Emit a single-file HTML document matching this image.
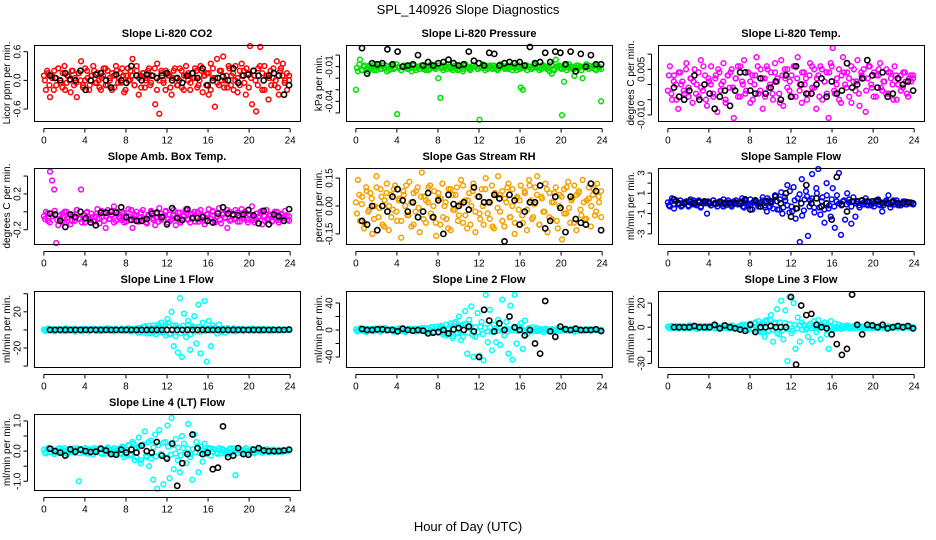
<!DOCTYPE html>
<html><head><meta charset="utf-8"><style>
html,body{margin:0;padding:0;background:#fff;}
svg{display:block;font-family:"Liberation Sans",sans-serif;}
</style></head><body>
<svg id="chart" width="936" height="540" viewBox="0 0 936 540">
<text x="468" y="14" font-size="13" text-anchor="middle">SPL_140926  Slope Diagnostics</text>
<text x="468" y="531" font-size="13" text-anchor="middle">Hour of Day (UTC)</text>
</svg>
<script>
const hourTicks = [0,4,8,12,16,20,24];

const p1Color = [0.1,-0.2,0.15,-0.35,0.05,0.2,-0.1,0.25,0.0,-0.15,0.3,-0.05,0.1,-0.25,0.2,0.05,-0.35,0.15,0.4,-0.1,0.0,0.2,-0.2,0.1,0.3,-0.05,0.15,-0.15,0.05,0.25,-0.1,0.2,0.0,-0.2,0.1,0.3,-0.05,0.15,0.25,-0.25,0.1,0.0,0.2,0.45,-0.1,0.3,-0.3,0.1,0.15,-0.15,0.05,0.25,-0.05,0.1,-0.5,0.35,-0.7,0.2,0.0,-0.2,0.15,0.1,-0.3,0.2,0.05,-0.1,0.25,-0.15,0.1,0.3,0.0,-0.2,0.15,0.05,0.2,-0.1,0.3,-0.25,0.1,0.15,-0.3,0.35,0.05,-0.55,0.45,-0.1,0.2,0.5,0.0,-0.15,0.25,0.1,-0.2,0.3,0.05,-0.1,0.35,0.2,-0.3,0.15,0.8,-0.5,0.1,-0.65,0.25,0.7,-0.2,0.3,0.1,-0.4,0.2,0.05,-0.1,0.4,-0.3,0.25,0.35,0.0,-0.2,0.1];
const p1Color2 = [0.0,0.2,-0.1,0.1,-0.2,0.05,0.25,-0.05,0.15,-0.2,0.1,0.0,0.2,-0.1,-0.05,0.15,0.0,-0.15,0.25,0.05,-0.1,0.1,0.2,-0.05,0.0,-0.2,0.1,0.25,-0.1,0.05,0.15,-0.15,0.2,0.05,-0.05,0.1,-0.2,0.25,0.0,0.1,-0.1,0.2,0.05,-0.15,0.15,0.0,0.2,-0.1,0.1,0.25,-0.2,0.0,0.15,-0.05,0.2,0.1,-0.15,0.05,0.25,-0.1,0.0,0.2,-0.2,0.1,0.15,-0.05,0.05,0.25,-0.15,0.0,0.2,0.1,-0.1,0.15,-0.2,0.25,0.05,-0.05,0.2,0.0,-0.15,0.1,0.3,-0.1,0.15,0.0,-0.25,0.2,0.1,-0.05,0.25,-0.15,0.05,0.2,0.0,-0.1,0.3,0.15,-0.2,0.1,0.05,-0.1,0.25,0.0,-0.15,0.2,0.1,-0.05,0.15,0.0];
const p1Black = [0.1,0.05,0.0,0.15,0.02,0.0,0.2,-0.2,0.0,0.12,0.15,0.0,-0.15,0.12,0.0,-0.05,0.3,0.1,0.0,0.12,0.1,0.05,0.1,0.15,0.0,0.05,-0.05,0.1,0.15,0.05,0.25,-0.1,0.0,0.05,0.08,0.0,0.25,-0.05,0.1,0.12,0.2,0.1,0.0,0.1,0.15,0.1,-0.3,-0.1];
const p1Ticks = [-0.6,0.0,0.6];
const p1Labels = ["-0.6","0.0","0.6"];

const p2Color = [-0.03,-0.014,-0.004,-0.013,-0.009,-0.012,-0.014,-0.01,-0.011,-0.008,-0.013,-0.01,-0.012,-0.009,-0.011,-0.014,-0.01,-0.012,-0.009,-0.011,-0.051,-0.01,-0.013,-0.009,-0.011,-0.012,-0.01,-0.014,-0.009,-0.011,-0.01,-0.012,-0.009,-0.011,-0.013,-0.01,-0.012,-0.009,-0.011,-0.01,-0.02,-0.037,-0.011,-0.009,-0.012,-0.01,-0.011,-0.013,-0.009,-0.01,-0.012,-0.011,-0.014,-0.009,-0.01,-0.012,-0.011,-0.009,-0.01,-0.012,-0.056,-0.01,-0.011,-0.009,-0.012,-0.01,-0.011,-0.009,-0.01,-0.012,-0.011,-0.009,-0.01,-0.011,-0.012,-0.009,-0.01,-0.011,-0.013,-0.01,-0.028,-0.03,-0.011,-0.009,-0.01,-0.012,-0.011,-0.009,-0.01,-0.011,-0.012,-0.009,-0.01,-0.011,-0.014,-0.016,-0.012,-0.004,-0.01,-0.011,-0.052,-0.023,-0.009,-0.011,-0.01,-0.012,-0.018,-0.011,-0.009,-0.01,-0.02,-0.011,-0.01,-0.009,-0.011,-0.01,-0.012,-0.009,-0.011,-0.04];
const p2Color2 = [-0.011,-0.008,-0.013,-0.01,-0.012,-0.009,-0.011,-0.013,-0.01,-0.008,-0.012,-0.011,-0.009,-0.013,-0.01,-0.012,-0.008,-0.011,-0.013,-0.009,-0.01,-0.012,-0.011,-0.008,-0.013,-0.01,-0.009,-0.012,-0.011,-0.013,-0.008,-0.01,-0.012,-0.009,-0.011,-0.013,-0.01,-0.008,-0.012,-0.011,-0.009,-0.013,-0.01,-0.012,-0.008,-0.011,-0.013,-0.009,-0.01,-0.012,-0.011,-0.008,-0.013,-0.01,-0.009,-0.012,-0.011,-0.013,-0.008,-0.01,-0.012,-0.009,-0.011,-0.013,-0.01,-0.008,-0.012,-0.011,-0.009,-0.013,-0.01,-0.012,-0.008,-0.011,-0.013,-0.009,-0.01,-0.012,-0.011,-0.008,-0.013,-0.01,-0.009,-0.012,-0.011,-0.013,-0.008,-0.01,-0.012,-0.009,-0.011,-0.013,-0.01,-0.008,-0.012,-0.011,-0.009,-0.013,-0.01,-0.012];
const p2Black = [0.006,-0.016,-0.007,-0.008,-0.007,0.005,-0.008,0.003,-0.01,-0.009,-0.008,0.0,-0.009,-0.006,-0.009,-0.007,-0.006,-0.004,-0.007,-0.009,-0.008,0.003,-0.005,-0.007,-0.009,0.002,0.001,-0.009,-0.007,-0.006,-0.007,-0.006,-0.009,0.007,-0.007,-0.006,0.002,-0.006,0.003,0.002,-0.008,0.003,-0.014,0.001,-0.01,0.0,-0.008,-0.008];
const p2Ticks = [0,-0.01,-0.02,-0.03,-0.04,-0.05];
const p2Labels = ["","-0.01","","","-0.04",""];

const p3Color = [-0.002,0.006,-0.005,0.003,0.0,-0.008,0.004,0.001,-0.003,0.007,-0.001,0.002,-0.006,0.005,0.0,-0.004,0.008,-0.002,0.003,-0.007,0.001,0.006,-0.003,0.002,-0.009,0.004,0.0,0.007,-0.005,0.003,-0.001,0.005,-0.011,0.002,0.006,-0.004,0.001,0.008,-0.002,0.004,-0.006,0.003,0.0,0.009,-0.003,0.005,-0.008,0.002,0.006,-0.001,0.004,-0.005,0.007,0.001,-0.003,0.008,-0.007,0.002,0.005,-0.002,0.003,0.006,-0.004,0.009,0.0,-0.006,0.004,0.002,-0.003,0.007,-0.001,0.005,-0.008,0.003,0.006,-0.005,0.001,0.004,-0.011,0.007,0.012,-0.003,0.002,0.005,-0.006,0.009,0.0,0.004,-0.004,0.006,0.001,-0.002,0.008,-0.007,0.003,0.005,-0.009,0.002,0.006,-0.001,0.004,-0.004,0.003,0.007,-0.002,0.001,0.005,-0.003,0.004,0.0,0.006,-0.005,0.002,0.003,-0.001,0.004,-0.003,0.002,0.001,0.003];
const p3Color2 = [0.003,-0.003,0.001,-0.005,0.004,0.0,-0.002,0.005,-0.004,0.002,0.001,-0.003,0.004,-0.001,0.006,-0.005,0.002,0.0,-0.004,0.003,0.005,-0.002,0.001,-0.006,0.003,0.004,-0.001,0.002,-0.004,0.006,0.0,-0.003,0.004,0.001,-0.005,0.003,0.006,-0.002,0.002,-0.004,0.005,0.0,-0.003,0.004,0.002,-0.006,0.003,0.005,-0.001,0.001,-0.004,0.006,0.002,-0.002,0.004,0.0,-0.005,0.003,0.006,-0.001,0.002,-0.004,0.005,0.001,-0.003,0.004,0.006,-0.002,0.0,-0.005,0.003,0.004,-0.001,0.002,-0.006,0.005,0.001,-0.003,0.004,0.002,-0.002,0.006,0.0,-0.004,0.003,0.005,-0.001,0.001,-0.003,0.004,0.002,-0.005,0.003,0.0,-0.002,0.004,0.001,-0.004,0.003,0.002];
const p3Black = [-0.001,-0.004,-0.005,-0.002,0.003,-0.005,0.0,-0.003,-0.008,-0.004,-0.002,-0.007,-0.002,0.004,0.004,-0.002,-0.003,0.002,-0.003,-0.001,0.001,-0.005,0.003,-0.004,0.006,0.0,-0.003,-0.003,0.0,0.002,-0.004,0.001,-0.003,-0.002,0.007,-0.001,0.0,0.002,0.008,0.003,-0.001,0.004,-0.004,-0.003,0.002,0.0,0.001,-0.002];
const p3Ticks = [0.01,0.005,0,-0.005,-0.01];
const p3Labels = ["","0.005","","","-0.010"];

const p4Color = [-0.05,0.0,-0.1,0.45,0.35,0.25,-0.35,-0.15,-0.08,-0.02,-0.12,0.0,-0.06,-0.14,-0.03,-0.1,0.02,-0.07,0.25,-0.04,-0.12,0.0,-0.08,-0.02,-0.1,-0.05,0.03,-0.13,-0.06,-0.01,-0.18,0.02,-0.08,-0.04,0.06,-0.1,-0.02,-0.07,0.0,-0.12,-0.05,0.03,-0.09,-0.18,-0.03,0.0,-0.11,-0.06,0.02,-0.08,-0.13,-0.04,0.01,-0.07,-0.15,-0.02,0.04,-0.09,-0.05,0.0,-0.12,-0.03,-0.08,0.02,-0.15,-0.06,-0.01,-0.1,-0.04,0.03,-0.08,-0.12,-0.02,0.0,-0.06,-0.11,0.02,-0.05,-0.14,-0.03,0.03,-0.08,0.0,-0.1,-0.05,0.04,-0.13,-0.02,-0.07,-0.18,0.0,-0.09,-0.04,0.02,-0.11,-0.06,0.03,-0.08,-0.01,-0.12,-0.04,0.06,-0.09,-0.02,-0.06,0.0,-0.14,-0.05,0.02,-0.08,-0.03,-0.1,0.0,-0.06,-0.12,-0.02,-0.07,0.01,-0.09,-0.05];
const p4Color2 = [-0.08,-0.02,-0.12,-0.05,0.01,-0.09,-0.04,-0.11,0.0,-0.07,-0.03,-0.1,-0.06,0.02,-0.08,-0.12,-0.04,-0.01,-0.09,-0.06,-0.11,-0.02,-0.07,0.01,-0.1,-0.05,-0.08,-0.03,-0.12,0.0,-0.06,-0.09,-0.02,-0.11,-0.05,0.02,-0.08,-0.04,-0.1,-0.01,-0.07,-0.12,-0.03,0.0,-0.09,-0.06,-0.11,-0.02,-0.05,0.01,-0.08,-0.1,-0.04,-0.07,-0.01,-0.12,-0.05,0.02,-0.09,-0.03,-0.06,-0.11,0.0,-0.08,-0.04,-0.1,-0.02,-0.07,0.01,-0.12,-0.05,-0.09,-0.03,-0.06,0.02,-0.1,-0.04,-0.08,-0.01,-0.11,-0.06,0.0,-0.09,-0.03,-0.07,-0.12,-0.02,-0.05,0.01,-0.1,-0.08,-0.04,-0.11,-0.06,0.0,-0.09,-0.03,-0.07,-0.05,-0.1];
const p4Black = [-0.02,-0.03,-0.1,-0.17,-0.03,-0.06,0.0,-0.07,-0.12,-0.15,-0.01,-0.01,0.0,-0.01,0.05,-0.06,-0.09,-0.1,-0.1,-0.08,-0.02,-0.01,-0.06,-0.14,0.04,-0.07,-0.09,0.03,-0.07,-0.07,-0.06,-0.1,-0.12,-0.02,0.05,-0.02,-0.03,-0.04,-0.03,0.02,-0.04,-0.13,0.01,-0.14,-0.03,-0.05,-0.1,0.03];
const p4Ticks = [0.4,0.2,0,-0.2];
const p4Labels = ["","0.2","","-0.2"];

const p5Color = [0.02,0.14,-0.08,0.05,-0.12,0.1,-0.03,0.07,-0.15,0.0,0.16,-0.06,0.09,-0.1,0.03,0.12,-0.13,0.06,-0.02,0.11,-0.08,0.04,-0.17,0.08,0.0,-0.05,0.13,-0.11,0.07,-0.03,0.1,-0.14,0.18,0.05,-0.09,0.02,0.11,-0.06,0.08,-0.16,0.04,-0.1,0.12,0.0,-0.07,0.09,-0.13,0.06,-0.02,0.1,-0.05,0.14,-0.09,0.03,-0.12,0.07,0.0,0.12,-0.14,0.05,-0.04,0.09,-0.1,0.15,0.02,-0.07,0.11,-0.12,0.06,0.16,-0.03,0.08,-0.11,0.02,0.12,-0.06,0.09,-0.15,0.04,-0.02,0.11,-0.09,0.07,-0.13,0.14,0.03,-0.06,0.1,0.16,-0.1,0.05,-0.03,0.12,-0.14,0.07,-0.07,0.02,0.1,-0.12,0.06,-0.18,0.09,-0.04,0.13,-0.09,0.04,0.11,-0.13,0.07,-0.02,0.14,-0.07,0.03,0.1,-0.11,0.06,-0.05,0.12,0.02,0.08];
const p5Color2 = [-0.04,0.06,0.01,-0.09,0.08,-0.02,0.04,-0.07,0.1,-0.01,0.05,-0.11,0.07,0.0,-0.06,0.09,-0.03,0.03,-0.08,0.06,0.11,-0.05,0.02,-0.1,0.08,-0.01,0.05,-0.07,0.03,0.1,-0.04,0.0,-0.09,0.07,0.04,-0.06,0.02,-0.12,0.09,-0.02,0.06,-0.08,0.01,0.11,-0.05,0.03,-0.1,0.08,-0.03,0.05,-0.07,0.0,0.09,-0.04,0.02,-0.11,0.07,-0.01,0.06,-0.08,0.04,0.1,-0.06,0.0,-0.09,0.05,0.03,-0.05,0.08,-0.02,0.11,-0.07,0.01,0.06,-0.1,0.04,-0.03,0.09,-0.06,0.02,0.07,-0.08,0.0,0.05,-0.04,0.1,-0.01,0.03,-0.09,0.06,0.08,-0.05,0.02,-0.07,0.04,0.0,0.09,-0.03,0.05,-0.06];
const p5Black = [-0.08,-0.1,0.0,-0.13,0.0,-0.03,0.05,0.09,0.03,-0.03,0.02,-0.06,-0.03,0.07,-0.06,0.03,-0.15,0.06,0.01,0.0,0.02,-0.02,0.1,0.05,0.02,0.02,0.06,0.04,-0.19,0.06,0.03,-0.1,-0.03,0.02,0.02,0.11,-0.12,-0.08,0.05,-0.01,-0.14,0.05,-0.07,-0.09,-0.1,0.12,0.08,-0.13];
const p5Ticks = [0.15,0.0,-0.15];
const p5Labels = ["0.15","0.00","-0.15"];

const p6Color = [0.1,-0.3,0.5,-0.5,0.2,-0.1,0.3,-0.2,0.0,0.2,-0.3,0.4,-0.1,0.1,-0.2,0.3,-0.4,0.0,0.2,-1.0,0.1,-0.2,0.3,0.0,-0.3,0.2,-0.1,0.4,-0.2,0.1,0.0,-0.3,0.2,0.3,-0.1,0.0,0.5,-0.4,0.1,-0.2,0.4,-0.6,0.2,0.0,-0.3,0.1,0.6,-0.2,-0.8,0.3,0.0,-0.5,0.7,0.2,-0.6,1.1,-0.4,0.3,1.8,-0.9,-0.3,1.6,-1.5,0.5,-3.8,2.4,-0.7,1.2,-3.2,0.3,2.9,-0.4,1.5,3.4,-1.1,0.6,-1.9,2.0,-0.5,-1.3,1.5,-2.4,0.8,3.0,-3.1,0.2,-1.6,1.0,0.4,-2.0,0.6,-1.3,0.2,-0.4,0.3,-0.1,0.5,-0.2,0.1,0.0,-0.3,0.2,0.4,-0.2,-0.8,0.1,0.3,0.8,-0.4,0.2,-0.1,0.3,0.0,-0.2,0.1,0.2,-0.1,0.0,0.1,-0.1];
const p6Color2 = [-0.2,0.2,-0.1,0.3,0.0,-0.3,0.1,0.2,-0.2,0.0,0.3,-0.1,0.2,-0.3,0.1,0.0,0.2,-0.2,0.3,-0.1,0.0,0.2,-0.3,0.1,0.3,-0.2,0.0,0.1,-0.1,0.2,-0.3,0.3,0.0,-0.2,0.1,0.2,-0.1,0.0,0.3,-0.4,0.5,-0.3,0.2,0.8,-0.6,0.4,-1.0,0.6,-0.2,1.2,-0.8,0.3,-0.5,0.9,-1.2,0.4,0.7,-0.3,0.5,-0.9,1.0,-0.4,0.2,-0.6,0.8,-0.2,0.4,-0.3,0.2,0.0,-0.2,0.3,-0.1,0.1,-0.3,0.2,0.0,-0.2,0.3,0.1,-0.1,0.2,-0.2,0.0,0.3,-0.1,0.1,-0.2,0.2,0.0,-0.1,0.3,0.1,-0.2,0.0,0.2,-0.1,0.1,0.0,-0.1];
const p6Black = [0.4,0.0,0.0,0.2,0.0,0.1,0.2,0.0,0.0,0.1,0.0,0.0,0.0,0.0,0.4,-0.6,0.3,-0.3,0.2,0.2,0.7,0.0,1.0,-1.3,-0.5,0.0,1.8,0.0,0.5,-0.3,0.0,-1.6,2.6,-0.1,-0.8,0.2,0.2,0.3,0.2,0.2,0.3,0.0,0.0,0.1,0.0,0.0,0.1,0.0];
const p6Ticks = [3,2,1,0,-1,-2,-3];
const p6Labels = ["3","","1","","-1","","-3"];

const p7Color = [0.5,-1.0,1.5,-0.5,0.8,-1.5,0.2,1.0,-0.8,0.5,-1.2,1.8,0.0,-0.5,1.0,-1.8,0.6,0.2,-1.0,1.2,-0.3,0.8,-1.5,0.4,1.5,-0.6,0.0,1.0,-1.2,0.5,-0.2,1.8,-0.8,0.3,-1.5,1.0,0.0,-0.6,1.5,-1.0,0.5,2.0,-2.0,0.8,-1.2,1.5,-3.0,2.5,-1.0,4.0,-4.0,1.5,-2.0,5.0,-2.0,3.0,-1.5,8.0,-3.0,6.0,12.0,-5.0,20.0,-18.0,5.0,-25.0,35.0,-30.0,18.0,-8.0,10.0,-22.0,4.0,15.0,-15.0,28.0,-26.0,8.0,32.0,-35.0,10.0,-18.0,5.0,3.0,-4.0,6.0,-2.0,1.5,-3.0,2.0,-1.0,0.5,1.8,-1.5,0.8,-0.3,1.2,-1.0,0.4,0.0,-0.8,1.5,-0.5,0.8,0.0,-1.2,0.5,1.0,-0.6,0.3,-1.0,0.6,0.0,-0.4,0.8,-0.5,0.2,0.4,-0.2,0.0];
const p7Color2 = [-0.8,1.0,-0.3,0.6,-1.2,0.2,0.9,-0.5,1.3,-1.0,0.4,-0.2,1.1,-0.7,0.3,-1.3,0.8,0.0,-0.6,1.0,0.2,-1.1,0.7,-0.4,1.2,-0.2,0.5,-0.9,1.0,0.0,-0.5,0.8,-1.2,0.3,1.1,-0.7,0.6,-1.0,2.0,-2.5,3.0,-1.5,4.5,-3.5,2.0,-5.0,6.0,-2.5,3.5,-6.0,8.0,-4.0,5.0,-7.0,3.0,-3.5,4.5,-2.0,6.0,-5.0,2.5,-1.5,3.0,-2.0,1.5,-1.0,2.0,-0.8,1.2,-0.5,0.8,-1.2,0.3,1.0,-0.6,0.2,-1.0,0.7,-0.3,1.1,-0.8,0.4,0.0,-0.5,0.9,-1.1,0.6,-0.2,1.0,-0.7,0.3,-0.4,0.8,0.0,-0.6,0.5,-0.2,0.3,0.0,-0.3];
const p7Black = [0,0,0,0,0,0,0,0,0,0,0,0,0,0,0,0,0,0,0,0,0,0,0,0,0,0,0,0,0,0,0,0,0,0,0,0,0,0,0,0,0,0,0,0,0,0,0,0.5];
const p7Ticks = [40,20,0,-20,-40];
const p7Labels = ["","20","","-20",""];

const p8Color = [1.0,-2.0,2.5,-1.0,0.5,-3.0,1.5,0.0,-1.5,2.0,-0.5,1.0,-2.5,0.5,3.0,-1.0,0.0,1.5,-2.0,0.8,-1.0,2.5,-1.5,0.5,-3.0,1.0,2.0,-0.8,0.3,-2.0,1.5,-1.0,3.0,-0.5,-2.5,1.0,0.0,4.0,-3.0,1.0,-4.0,2.0,5.0,-5.0,-8.0,3.0,6.0,-12.0,10.0,-5.0,20.0,-15.0,8.0,28.0,-35.0,15.0,35.0,-40.0,-10.0,25.0,-38.0,12.0,-45.0,52.0,-18.0,30.0,-30.0,8.0,-18.0,15.0,-22.0,45.0,-8.0,12.0,-35.0,36.0,-44.0,52.0,-20.0,5.0,10.0,-28.0,14.0,-6.0,3.0,-2.0,4.0,-1.0,2.5,-1.5,1.0,-3.0,2.0,0.0,-1.0,1.5,-2.0,0.5,3.0,-1.5,1.0,-0.5,2.0,-1.0,0.0,1.5,-2.5,0.8,-0.5,1.0,-1.5,0.5,0.0,1.0,-0.8,0.5,-0.3,0.8,0.0,0.5];
const p8Color2 = [-1.5,1.0,-0.5,2.0,-2.0,0.5,1.5,-1.0,0.0,2.5,-1.5,1.0,-0.5,0.0,1.5,-2.5,0.8,-1.0,2.0,0.0,-1.5,1.0,-0.5,2.0,-2.0,0.5,1.0,-1.0,3.0,-2.5,4.0,-3.0,5.0,-4.0,6.0,-7.0,8.0,-6.0,10.0,-9.0,12.0,-5.0,7.0,-10.0,9.0,-4.0,6.0,-8.0,4.0,-3.0,5.0,-6.0,3.0,-2.0,4.0,-3.0,2.0,-1.5,2.5,-1.0,1.5,-2.0,1.0,-0.5,2.0,-1.5,0.5,1.0,-1.0,0.0,1.5,-0.5,1.0,-1.5,0.5,0.0,1.0,-1.0,0.5,0.0,-0.5,1.0,-0.8,0.3,0.6,-0.5,0.0,0.8,-0.6,0.2,0.5,-0.3,0.0,0.4,-0.2,0.3,0.0,-0.3,0.2,0.0];
const p8Black = [1.5,0.0,0.0,1.0,1.0,0.0,0.0,-2.0,2.0,0.0,-1.0,0.0,-1.0,-5.0,-4.0,-3.0,0.0,-5.0,1.0,3.0,0.0,5.0,-2.0,-40.0,30.0,14.0,-2.0,10.0,0.0,20.0,4.0,0.0,-8.0,0.0,-20.0,-35.0,43.0,-2.0,-10.0,5.0,1.0,0.0,2.0,0.0,0.0,0.0,1.0,-1.5];
const p8Ticks = [40,20,0,-20,-40];
const p8Labels = ["40","","0","","-40"];

const p9Color = [0.5,-1.0,1.0,-0.5,0.3,-1.2,0.8,0.0,-0.8,0.5,-1.0,1.2,-0.3,0.6,-1.5,0.2,1.0,-0.6,0.4,-1.0,0.8,-0.4,1.5,-1.2,0.0,0.6,-0.8,1.0,-0.3,0.5,-1.0,1.5,-0.5,0.2,-1.2,0.8,2.0,-1.5,0.5,-2.5,1.5,-1.0,3.0,-2.0,5.0,-4.0,2.0,-8.0,6.0,-3.0,10.0,-12.0,4.0,15.0,-6.0,22.0,-10.0,14.0,-28.0,25.0,-5.0,20.0,-18.0,8.0,-12.0,4.0,2.0,-2.0,-8.0,3.0,-12.0,5.0,-4.0,6.0,-10.0,2.0,4.0,-6.0,-18.0,5.0,-2.0,3.0,-1.0,2.0,-1.5,1.0,-0.5,1.5,-1.0,0.5,0.0,-0.8,1.0,-0.3,0.6,-1.0,0.4,-0.5,1.2,-0.8,0.3,0.0,-0.6,1.0,-0.4,0.5,-1.0,0.8,0.0,-0.5,0.6,-0.3,0.2,0.5,-0.6,0.3,0.0,-0.4,0.5,0.0];
const p9Color2 = [-0.6,0.8,-0.2,1.0,-1.0,0.3,0.6,-0.8,1.2,-0.4,0.0,0.9,-1.1,0.4,-0.3,1.0,-0.7,0.2,0.8,-1.0,0.5,-0.2,1.1,-0.6,0.3,-0.9,0.7,0.0,-0.5,1.2,-1.0,2.0,-1.5,3.0,-2.0,4.0,-3.0,2.5,-4.5,5.0,-3.5,6.0,-2.0,3.0,-5.0,4.0,-2.5,3.5,-1.5,2.5,-3.0,2.0,-1.0,1.5,-2.0,1.0,-0.5,1.2,-0.8,0.6,-1.0,0.4,-0.2,0.9,-0.6,0.0,0.7,-0.9,0.3,-0.4,1.0,-0.7,0.2,0.5,-0.3,0.8,-1.0,0.4,0.0,-0.6,0.6,-0.2,0.9,-0.5,0.3,-0.8,0.5,0.0,-0.4,0.7,-0.3,0.2,0.5,-0.6,0.1,0.4,-0.2,0.3,0.0,-0.3];
const p9Black = [0.0,0.0,0.0,0.0,1.0,0.0,0.0,0.0,2.0,-1.0,1.5,0.0,-1.0,-2.0,-3.0,2.0,-4.0,0.0,0.0,1.0,0.0,0.0,0.0,25.0,-31.0,18.0,10.0,11.0,2.0,0.0,-1.0,-6.0,-14.0,-23.0,-18.0,27.0,2.0,-6.0,2.0,1.5,0.0,2.0,-1.0,0.0,1.0,0.0,1.0,-1.0];
const p9Ticks = [20,10,0,-10,-20,-30];
const p9Labels = ["20","","0","","","-30"];

const p10Color = [0.05,-0.08,0.1,-0.03,0.06,-0.1,0.02,0.08,-0.05,0.0,0.1,-0.07,0.04,-0.02,0.09,-0.06,0.03,-1.0,0.07,-0.04,0.1,-0.08,0.02,0.06,-0.1,0.04,0.0,0.09,-0.05,0.03,-0.08,0.12,-0.03,0.06,-0.1,0.02,0.08,-0.06,0.15,-0.2,0.05,0.2,-0.15,0.3,-0.3,0.1,0.45,-0.4,0.2,0.65,-0.2,-0.5,0.35,-0.95,0.55,-1.25,0.7,-0.1,-1.1,0.3,0.85,-0.9,1.1,-0.6,0.4,-0.3,-0.7,0.5,0.25,-0.4,0.9,-0.2,-0.95,0.55,0.3,-0.7,0.15,-0.35,0.25,-0.1,0.1,-0.15,0.08,0.05,-0.05,0.1,-0.08,0.04,0.0,-0.1,0.06,-0.04,0.09,-0.8,0.02,0.07,-0.06,0.03,0.1,-0.05,0.0,0.06,-0.08,0.04,-0.02,0.08,-0.05,0.03,0.06,-0.04,0.02,0.05,-0.03,0.0,0.04,-0.02,0.03,0.01,-0.01,0.02];
const p10Color2 = [-0.05,0.08,-0.02,0.06,-0.09,0.03,0.1,-0.06,0.02,-0.1,0.07,0.0,-0.04,0.09,-0.07,0.04,-0.01,0.08,-0.08,0.05,0.1,-0.03,0.06,-0.09,0.02,0.08,-0.05,0.0,0.1,-0.07,0.04,-0.1,0.12,-0.12,0.18,-0.1,0.25,-0.2,0.15,-0.3,0.22,-0.15,0.3,-0.25,0.12,-0.18,0.2,-0.1,0.28,-0.22,0.15,-0.12,0.2,-0.08,0.12,-0.15,0.1,-0.05,0.08,-0.1,0.06,-0.03,0.09,-0.07,0.04,0.0,-0.06,0.08,-0.02,0.05,-0.09,0.03,0.07,-0.05,0.0,0.09,-0.04,0.02,-0.07,0.06,-0.02,0.04,-0.06,0.03,0.07,-0.03,0.0,0.05,-0.05,0.02,0.06,-0.04,0.01,0.04,-0.02,0.03,-0.03,0.02,0.0,0.03];
const p10Black = [0.08,0.0,-0.05,-0.15,0.06,-0.02,0.05,0.0,-0.03,-0.02,0.08,0.02,-0.1,-0.12,0.05,-0.05,0.05,-0.05,0.18,0.0,-0.05,0.3,-0.15,-0.25,0.25,-1.15,-0.4,-0.1,0.55,0.1,-0.1,-0.05,-0.6,-0.55,0.82,-0.2,-0.15,0.1,-0.1,-0.12,0.05,0.1,0.02,0.0,0.0,0.0,0.02,0.05];
const p10Ticks = [1.0,0.5,0.0,-0.5,-1.0];
const p10Labels = ["1.0","","0.0","","-1.0"];

const NS = "http://www.w3.org/2000/svg";
const svg = document.getElementById('chart');
const colLeft = [34,346,658];
const rowTop = [45,168,291,414];
const boxW = 266, boxH = 76;

const panels = [
 {title:"Slope Li-820 CO2", ylab:"Licor ppm per min.", col:0,row:0, ymin:-0.85, ymax:0.74, color:"#ff0000", c:p1Color, c2:p1Color2, b:p1Black, t:p1Ticks, l:p1Labels},
 {title:"Slope Li-820 Pressure", ylab:"kPa per min.", col:1,row:0, ymin:-0.057, ymax:0.0087, color:"#00e000", c:p2Color, c2:p2Color2, b:p2Black, t:p2Ticks, l:p2Labels},
 {title:"Slope Li-820 Temp.", ylab:"degrees C per min.", col:2,row:0, ymin:-0.012, ymax:0.013, color:"#ff00ff", c:p3Color, c2:p3Color2, b:p3Black, t:p3Ticks, l:p3Labels},
 {title:"Slope Amb. Box Temp.", ylab:"degrees C per min.", col:0,row:1, ymin:-0.36, ymax:0.49, color:"#ff00ff", c:p4Color, c2:p4Color2, b:p4Black, t:p4Ticks, l:p4Labels},
 {title:"Slope Gas Stream RH", ylab:"percent per min.", col:1,row:1, ymin:-0.204, ymax:0.204, color:"#f5a000", c:p5Color, c2:p5Color2, b:p5Black, t:p5Ticks, l:p5Labels},
 {title:"Slope Sample Flow", ylab:"ml/min per min.", col:2,row:1, ymin:-4.0, ymax:3.49, color:"#0000ff", c:p6Color, c2:p6Color2, b:p6Black, t:p6Ticks, l:p6Labels},
 {title:"Slope Line 1 Flow", ylab:"ml/min per min.", col:0,row:2, ymin:-41, ymax:43, color:"#00ffff", c:p7Color, c2:p7Color2, b:p7Black, t:p7Ticks, l:p7Labels},
 {title:"Slope Line 2 Flow", ylab:"ml/min per min.", col:1,row:2, ymin:-54.8, ymax:57.8, color:"#00ffff", c:p8Color, c2:p8Color2, b:p8Black, t:p8Ticks, l:p8Labels},
 {title:"Slope Line 3 Flow", ylab:"ml/min per min.", col:2,row:2, ymin:-33, ymax:30, color:"#00ffff", c:p9Color, c2:p9Color2, b:p9Black, t:p9Ticks, l:p9Labels},
 {title:"Slope Line 4 (LT) Flow", ylab:"ml/min per min.", col:0,row:3, ymin:-1.29, ymax:1.23, color:"#00ffff", c:p10Color, c2:p10Color2, b:p10Black, t:p10Ticks, l:p10Labels}
];

function mk(tag, attrs, parent){
  const e = document.createElementNS(NS, tag);
  for (const k in attrs) e.setAttribute(k, attrs[k]);
  parent.appendChild(e);
  return e;
}

panels.forEach((p, pi) => {
  const L = colLeft[p.col], T = rowTop[p.row];
  const xScale = h => L + (h + 0.96) / 25.92 * boxW;
  const yScale = v => T + (p.ymax - v) / (p.ymax - p.ymin) * boxH;
  const g = mk('g', {}, svg);
  
  

  const title = mk('text', {x: L + boxW/2, y: T - 8, 'font-size': 11, 'font-weight': 'bold', 'text-anchor': 'middle'}, g);
  title.textContent = p.title;
  
  

  const yl = mk('text', {x: 0, y: 0, 'font-size': 10, 'text-anchor': 'middle', transform: `translate(${L-24},${T+boxH/2}) rotate(-90)`}, g);
  yl.textContent = p.ylab;
  
  

  const pts = mk('g', {fill: 'none'}, g);
  
  
  p.c2.forEach((v, i) => {
    const h = 0.1 + i * 23.8 / (p.c2.length - 1);
    const y = Math.max(T + 1, Math.min(T + boxH - 1, yScale(v)));
    const c = mk('circle', {cx: xScale(h).toFixed(1), cy: y.toFixed(1), r: 2.4, stroke: p.color, 'stroke-width': 1.5}, pts);
    
    
  });
  p.c.forEach((v, i) => {
    const h = i * 23.9 / (p.c.length - 1);
    const y = Math.max(T + 1, Math.min(T + boxH - 1, yScale(v)));
    const c = mk('circle', {cx: xScale(h).toFixed(1), cy: y.toFixed(1), r: 2.4, stroke: p.color, 'stroke-width': 1.5}, pts);
    
    
  });
  const bpts = mk('g', {fill: 'none'}, g);
  
  
  p.b.forEach((v, i) => {
    const h = 0.6 + i * 23.3 / (p.b.length - 1);
    const y = Math.max(T + 1, Math.min(T + boxH - 1, yScale(v)));
    const c = mk('circle', {cx: xScale(h).toFixed(1), cy: y.toFixed(1), r: 2.6, stroke: '#000', 'stroke-width': 1.6}, bpts);
    
    
  });

  const box = mk('rect', {x: L + 0.5, y: T + 0.5, width: boxW, height: boxH, fill: 'none', stroke: '#000', 'stroke-width': 1}, g);
  
  

  const xa = mk('g', {}, g);
  
  
  const by = T + boxH + 0.5;
  mk('line', {x1: xScale(0), x2: xScale(24), y1: by + 7, y2: by + 7, stroke: '#000'}, xa);
  hourTicks.forEach(h => {
    const x = xScale(h);
    mk('line', {x1: x, x2: x, y1: by + 7, y2: by + 11, stroke: '#000'}, xa);
    const t = mk('text', {x: x, y: by + 22, 'font-size': 10, 'text-anchor': 'middle'}, xa);
    t.textContent = h;
    
    
  });

  const ya = mk('g', {}, g);
  
  
  const ax = L - 6.5;
  const yt = p.t.map(yScale);
  mk('line', {x1: ax, x2: ax, y1: Math.min(...yt), y2: Math.max(...yt), stroke: '#000'}, ya);
  p.t.forEach((v, i) => {
    const y = yScale(v);
    mk('line', {x1: ax - 4, x2: ax, y1: y, y2: y, stroke: '#000'}, ya);
    if (p.l[i]) {
      const t = mk('text', {x: 0, y: 0, 'font-size': 10, 'text-anchor': 'middle', transform: `translate(${ax-7},${y}) rotate(-90)`}, ya);
      t.textContent = p.l[i];
      
      
    }
  });
});
</script>
</body></html>
